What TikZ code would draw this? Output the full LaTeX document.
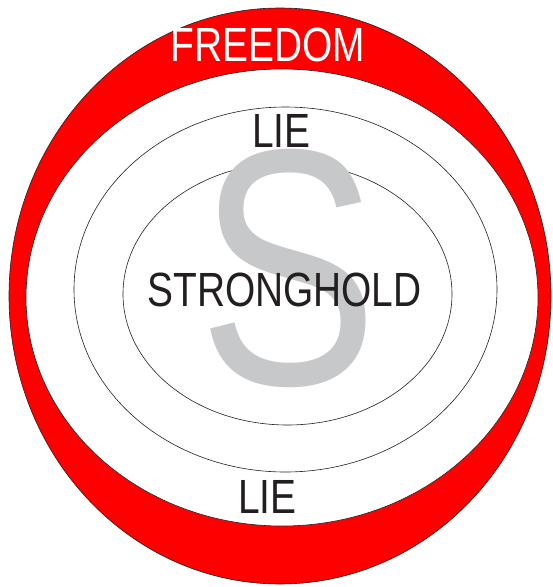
\documentclass[tikz,border=0pt]{standalone}
\usepackage{fontspec}
\usetikzlibrary{shapes.geometric}
\newfontfamily\labelfont[FakeStretch=0.81]{Liberation Sans}
\newfontfamily\bigSfont[FakeStretch=0.80]{Liberation Sans}
\definecolor{inkdark}{HTML}{231F20}
\definecolor{sgray}{HTML}{C7C8CA}
\definecolor{ringred}{HTML}{FF0000}
\begin{document}
\begin{tikzpicture}[x=1pt,y=-1pt,
  ring/.style={ellipse, draw=inkdark, line width=0.6pt, inner sep=0pt, outer sep=0pt},
  lbl/.style={anchor=base, inner sep=0pt, text=inkdark, font=\labelfont\fontsize{48}{48}\selectfont}]
\useasboundingbox (0,0) rectangle (553,587);
\node[ring, fill=ringred, minimum width=542pt, minimum height=576pt] (outer) at (280,296) {};
\node[ring, fill=white, minimum width=512pt, minimum height=457pt] (white) at (282,297.5) {};
\node[ring, minimum width=423pt, minimum height=365pt] (middle) at (285.5,289.5) {};
\node[ring, minimum width=329pt, minimum height=262pt] (inner) at (287.5,294) {};
\node[anchor=base, inner sep=0pt, text=sgray, font=\bigSfont\fontsize{337}{337}\selectfont] (bigS) at (288,384) {S};
\node[lbl] (strong) at (284.5,306) {STRONGHOLD};
\node[lbl, text=white] (freedom) at (268,61) {FREEDOM};
\node[lbl] (lietop) at (281.5,147) {LIE};
\node[lbl] (liebot) at (267.5,513) {LIE};
\end{tikzpicture}
\end{document}
